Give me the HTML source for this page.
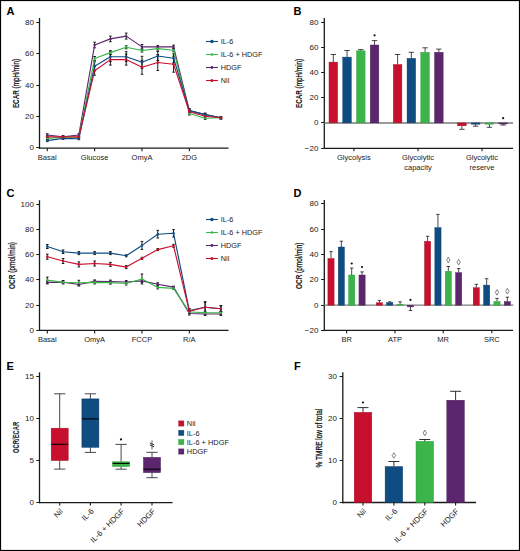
<!DOCTYPE html>
<html><head><meta charset="utf-8"><style>
html,body{margin:0;padding:0;background:#fff;width:520px;height:551px;overflow:hidden}
svg{display:block}
text{font-family:"Liberation Sans",sans-serif}
</style></head><body>
<svg width="520" height="551" viewBox="0 0 520 551">
<rect x="0" y="0" width="520" height="551" fill="#fff"/>
<text x="6.60" y="14.60" font-size="11" text-anchor="start" font-weight="bold" fill="#000" >A</text>
<line x1="39.50" y1="18.00" x2="39.50" y2="148.70" stroke="#1a1a1a" stroke-width="1.3"/>
<line x1="38.90" y1="148.10" x2="228.50" y2="148.10" stroke="#1a1a1a" stroke-width="1.3"/>
<line x1="36.30" y1="147.50" x2="39.50" y2="147.50" stroke="#1a1a1a" stroke-width="1.0"/>
<text x="33.90" y="150.28" font-size="8.0" text-anchor="end" font-weight="normal" fill="#222" >0</text>
<line x1="36.30" y1="116.50" x2="39.50" y2="116.50" stroke="#1a1a1a" stroke-width="1.0"/>
<text x="33.90" y="118.95" font-size="8.0" text-anchor="end" font-weight="normal" fill="#222" >20</text>
<line x1="36.30" y1="85.50" x2="39.50" y2="85.50" stroke="#1a1a1a" stroke-width="1.0"/>
<text x="33.90" y="87.62" font-size="8.0" text-anchor="end" font-weight="normal" fill="#222" >40</text>
<line x1="36.30" y1="53.50" x2="39.50" y2="53.50" stroke="#1a1a1a" stroke-width="1.0"/>
<text x="33.90" y="56.29" font-size="8.0" text-anchor="end" font-weight="normal" fill="#222" >60</text>
<line x1="36.30" y1="22.50" x2="39.50" y2="22.50" stroke="#1a1a1a" stroke-width="1.0"/>
<text x="33.90" y="24.96" font-size="8.0" text-anchor="end" font-weight="normal" fill="#222" >80</text>
<line x1="47.25" y1="148.10" x2="47.25" y2="151.20" stroke="#1a1a1a" stroke-width="1.1"/>
<text x="47.25" y="160.00" font-size="7.5" text-anchor="middle" font-weight="normal" fill="#222" >Basal</text>
<line x1="94.62" y1="148.10" x2="94.62" y2="151.20" stroke="#1a1a1a" stroke-width="1.1"/>
<text x="94.62" y="160.00" font-size="7.5" text-anchor="middle" font-weight="normal" fill="#222" >Glucose</text>
<line x1="141.99" y1="148.10" x2="141.99" y2="151.20" stroke="#1a1a1a" stroke-width="1.1"/>
<text x="141.99" y="160.00" font-size="7.5" text-anchor="middle" font-weight="normal" fill="#222" >OmyA</text>
<line x1="189.36" y1="148.10" x2="189.36" y2="151.20" stroke="#1a1a1a" stroke-width="1.1"/>
<text x="189.36" y="160.00" font-size="7.5" text-anchor="middle" font-weight="normal" fill="#222" >2DG</text>
<text transform="translate(18.80,83.55) rotate(-90)" font-size="9.8" text-anchor="middle" fill="#111" font-weight="bold" textLength="49.1" lengthAdjust="spacingAndGlyphs">ECAR<tspan font-weight="normal" stroke="#111" stroke-width="0.3"> (mpH/min)</tspan></text>
<line x1="47.25" y1="133.80" x2="47.25" y2="136.20" stroke="#111" stroke-width="0.95"/>
<line x1="45.95" y1="133.80" x2="48.55" y2="133.80" stroke="#111" stroke-width="0.95"/>
<line x1="45.95" y1="136.20" x2="48.55" y2="136.20" stroke="#111" stroke-width="0.95"/>
<line x1="63.04" y1="135.70" x2="63.04" y2="137.70" stroke="#111" stroke-width="0.95"/>
<line x1="61.74" y1="135.70" x2="64.34" y2="135.70" stroke="#111" stroke-width="0.95"/>
<line x1="61.74" y1="137.70" x2="64.34" y2="137.70" stroke="#111" stroke-width="0.95"/>
<line x1="78.83" y1="133.80" x2="78.83" y2="136.20" stroke="#111" stroke-width="0.95"/>
<line x1="77.53" y1="133.80" x2="80.13" y2="133.80" stroke="#111" stroke-width="0.95"/>
<line x1="77.53" y1="136.20" x2="80.13" y2="136.20" stroke="#111" stroke-width="0.95"/>
<line x1="94.62" y1="42.20" x2="94.62" y2="47.80" stroke="#111" stroke-width="0.95"/>
<line x1="93.32" y1="42.20" x2="95.92" y2="42.20" stroke="#111" stroke-width="0.95"/>
<line x1="93.32" y1="47.80" x2="95.92" y2="47.80" stroke="#111" stroke-width="0.95"/>
<line x1="110.41" y1="36.10" x2="110.41" y2="41.70" stroke="#111" stroke-width="0.95"/>
<line x1="109.11" y1="36.10" x2="111.71" y2="36.10" stroke="#111" stroke-width="0.95"/>
<line x1="109.11" y1="41.70" x2="111.71" y2="41.70" stroke="#111" stroke-width="0.95"/>
<line x1="126.20" y1="33.10" x2="126.20" y2="39.10" stroke="#111" stroke-width="0.95"/>
<line x1="124.90" y1="33.10" x2="127.50" y2="33.10" stroke="#111" stroke-width="0.95"/>
<line x1="124.90" y1="39.10" x2="127.50" y2="39.10" stroke="#111" stroke-width="0.95"/>
<line x1="141.99" y1="44.50" x2="141.99" y2="49.30" stroke="#111" stroke-width="0.95"/>
<line x1="140.69" y1="44.50" x2="143.29" y2="44.50" stroke="#111" stroke-width="0.95"/>
<line x1="140.69" y1="49.30" x2="143.29" y2="49.30" stroke="#111" stroke-width="0.95"/>
<line x1="157.78" y1="45.40" x2="157.78" y2="48.40" stroke="#111" stroke-width="0.95"/>
<line x1="156.48" y1="45.40" x2="159.08" y2="45.40" stroke="#111" stroke-width="0.95"/>
<line x1="156.48" y1="48.40" x2="159.08" y2="48.40" stroke="#111" stroke-width="0.95"/>
<line x1="173.57" y1="45.10" x2="173.57" y2="48.70" stroke="#111" stroke-width="0.95"/>
<line x1="172.27" y1="45.10" x2="174.87" y2="45.10" stroke="#111" stroke-width="0.95"/>
<line x1="172.27" y1="48.70" x2="174.87" y2="48.70" stroke="#111" stroke-width="0.95"/>
<line x1="189.36" y1="109.10" x2="189.36" y2="112.10" stroke="#111" stroke-width="0.95"/>
<line x1="188.06" y1="109.10" x2="190.66" y2="109.10" stroke="#111" stroke-width="0.95"/>
<line x1="188.06" y1="112.10" x2="190.66" y2="112.10" stroke="#111" stroke-width="0.95"/>
<line x1="205.15" y1="113.40" x2="205.15" y2="115.80" stroke="#111" stroke-width="0.95"/>
<line x1="203.85" y1="113.40" x2="206.45" y2="113.40" stroke="#111" stroke-width="0.95"/>
<line x1="203.85" y1="115.80" x2="206.45" y2="115.80" stroke="#111" stroke-width="0.95"/>
<line x1="220.94" y1="116.80" x2="220.94" y2="118.80" stroke="#111" stroke-width="0.95"/>
<line x1="219.64" y1="116.80" x2="222.24" y2="116.80" stroke="#111" stroke-width="0.95"/>
<line x1="219.64" y1="118.80" x2="222.24" y2="118.80" stroke="#111" stroke-width="0.95"/>
<line x1="47.25" y1="137.40" x2="47.25" y2="139.40" stroke="#111" stroke-width="0.95"/>
<line x1="45.95" y1="137.40" x2="48.55" y2="137.40" stroke="#111" stroke-width="0.95"/>
<line x1="45.95" y1="139.40" x2="48.55" y2="139.40" stroke="#111" stroke-width="0.95"/>
<line x1="63.04" y1="136.20" x2="63.04" y2="138.20" stroke="#111" stroke-width="0.95"/>
<line x1="61.74" y1="136.20" x2="64.34" y2="136.20" stroke="#111" stroke-width="0.95"/>
<line x1="61.74" y1="138.20" x2="64.34" y2="138.20" stroke="#111" stroke-width="0.95"/>
<line x1="78.83" y1="136.20" x2="78.83" y2="138.20" stroke="#111" stroke-width="0.95"/>
<line x1="77.53" y1="136.20" x2="80.13" y2="136.20" stroke="#111" stroke-width="0.95"/>
<line x1="77.53" y1="138.20" x2="80.13" y2="138.20" stroke="#111" stroke-width="0.95"/>
<line x1="94.62" y1="56.50" x2="94.62" y2="60.50" stroke="#111" stroke-width="0.95"/>
<line x1="93.32" y1="56.50" x2="95.92" y2="56.50" stroke="#111" stroke-width="0.95"/>
<line x1="93.32" y1="60.50" x2="95.92" y2="60.50" stroke="#111" stroke-width="0.95"/>
<line x1="110.41" y1="50.60" x2="110.41" y2="54.60" stroke="#111" stroke-width="0.95"/>
<line x1="109.11" y1="50.60" x2="111.71" y2="50.60" stroke="#111" stroke-width="0.95"/>
<line x1="109.11" y1="54.60" x2="111.71" y2="54.60" stroke="#111" stroke-width="0.95"/>
<line x1="126.20" y1="45.80" x2="126.20" y2="48.80" stroke="#111" stroke-width="0.95"/>
<line x1="124.90" y1="45.80" x2="127.50" y2="45.80" stroke="#111" stroke-width="0.95"/>
<line x1="124.90" y1="48.80" x2="127.50" y2="48.80" stroke="#111" stroke-width="0.95"/>
<line x1="141.99" y1="49.00" x2="141.99" y2="52.00" stroke="#111" stroke-width="0.95"/>
<line x1="140.69" y1="49.00" x2="143.29" y2="49.00" stroke="#111" stroke-width="0.95"/>
<line x1="140.69" y1="52.00" x2="143.29" y2="52.00" stroke="#111" stroke-width="0.95"/>
<line x1="157.78" y1="47.10" x2="157.78" y2="50.10" stroke="#111" stroke-width="0.95"/>
<line x1="156.48" y1="47.10" x2="159.08" y2="47.10" stroke="#111" stroke-width="0.95"/>
<line x1="156.48" y1="50.10" x2="159.08" y2="50.10" stroke="#111" stroke-width="0.95"/>
<line x1="173.57" y1="48.70" x2="173.57" y2="51.70" stroke="#111" stroke-width="0.95"/>
<line x1="172.27" y1="48.70" x2="174.87" y2="48.70" stroke="#111" stroke-width="0.95"/>
<line x1="172.27" y1="51.70" x2="174.87" y2="51.70" stroke="#111" stroke-width="0.95"/>
<line x1="189.36" y1="112.00" x2="189.36" y2="115.00" stroke="#111" stroke-width="0.95"/>
<line x1="188.06" y1="112.00" x2="190.66" y2="112.00" stroke="#111" stroke-width="0.95"/>
<line x1="188.06" y1="115.00" x2="190.66" y2="115.00" stroke="#111" stroke-width="0.95"/>
<line x1="205.15" y1="117.10" x2="205.15" y2="119.50" stroke="#111" stroke-width="0.95"/>
<line x1="203.85" y1="117.10" x2="206.45" y2="117.10" stroke="#111" stroke-width="0.95"/>
<line x1="203.85" y1="119.50" x2="206.45" y2="119.50" stroke="#111" stroke-width="0.95"/>
<line x1="220.94" y1="116.80" x2="220.94" y2="118.80" stroke="#111" stroke-width="0.95"/>
<line x1="219.64" y1="116.80" x2="222.24" y2="116.80" stroke="#111" stroke-width="0.95"/>
<line x1="219.64" y1="118.80" x2="222.24" y2="118.80" stroke="#111" stroke-width="0.95"/>
<line x1="47.25" y1="139.60" x2="47.25" y2="141.60" stroke="#111" stroke-width="0.95"/>
<line x1="45.95" y1="139.60" x2="48.55" y2="139.60" stroke="#111" stroke-width="0.95"/>
<line x1="45.95" y1="141.60" x2="48.55" y2="141.60" stroke="#111" stroke-width="0.95"/>
<line x1="63.04" y1="137.40" x2="63.04" y2="139.40" stroke="#111" stroke-width="0.95"/>
<line x1="61.74" y1="137.40" x2="64.34" y2="137.40" stroke="#111" stroke-width="0.95"/>
<line x1="61.74" y1="139.40" x2="64.34" y2="139.40" stroke="#111" stroke-width="0.95"/>
<line x1="78.83" y1="137.70" x2="78.83" y2="139.70" stroke="#111" stroke-width="0.95"/>
<line x1="77.53" y1="137.70" x2="80.13" y2="137.70" stroke="#111" stroke-width="0.95"/>
<line x1="77.53" y1="139.70" x2="80.13" y2="139.70" stroke="#111" stroke-width="0.95"/>
<line x1="94.62" y1="61.70" x2="94.62" y2="70.70" stroke="#111" stroke-width="0.95"/>
<line x1="93.32" y1="61.70" x2="95.92" y2="61.70" stroke="#111" stroke-width="0.95"/>
<line x1="93.32" y1="70.70" x2="95.92" y2="70.70" stroke="#111" stroke-width="0.95"/>
<line x1="110.41" y1="51.70" x2="110.41" y2="61.70" stroke="#111" stroke-width="0.95"/>
<line x1="109.11" y1="51.70" x2="111.71" y2="51.70" stroke="#111" stroke-width="0.95"/>
<line x1="109.11" y1="61.70" x2="111.71" y2="61.70" stroke="#111" stroke-width="0.95"/>
<line x1="126.20" y1="51.70" x2="126.20" y2="61.70" stroke="#111" stroke-width="0.95"/>
<line x1="124.90" y1="51.70" x2="127.50" y2="51.70" stroke="#111" stroke-width="0.95"/>
<line x1="124.90" y1="61.70" x2="127.50" y2="61.70" stroke="#111" stroke-width="0.95"/>
<line x1="141.99" y1="56.30" x2="141.99" y2="68.30" stroke="#111" stroke-width="0.95"/>
<line x1="140.69" y1="56.30" x2="143.29" y2="56.30" stroke="#111" stroke-width="0.95"/>
<line x1="140.69" y1="68.30" x2="143.29" y2="68.30" stroke="#111" stroke-width="0.95"/>
<line x1="157.78" y1="51.50" x2="157.78" y2="60.50" stroke="#111" stroke-width="0.95"/>
<line x1="156.48" y1="51.50" x2="159.08" y2="51.50" stroke="#111" stroke-width="0.95"/>
<line x1="156.48" y1="60.50" x2="159.08" y2="60.50" stroke="#111" stroke-width="0.95"/>
<line x1="173.57" y1="53.70" x2="173.57" y2="62.70" stroke="#111" stroke-width="0.95"/>
<line x1="172.27" y1="53.70" x2="174.87" y2="53.70" stroke="#111" stroke-width="0.95"/>
<line x1="172.27" y1="62.70" x2="174.87" y2="62.70" stroke="#111" stroke-width="0.95"/>
<line x1="189.36" y1="108.60" x2="189.36" y2="112.60" stroke="#111" stroke-width="0.95"/>
<line x1="188.06" y1="108.60" x2="190.66" y2="108.60" stroke="#111" stroke-width="0.95"/>
<line x1="188.06" y1="112.60" x2="190.66" y2="112.60" stroke="#111" stroke-width="0.95"/>
<line x1="205.15" y1="113.10" x2="205.15" y2="116.10" stroke="#111" stroke-width="0.95"/>
<line x1="203.85" y1="113.10" x2="206.45" y2="113.10" stroke="#111" stroke-width="0.95"/>
<line x1="203.85" y1="116.10" x2="206.45" y2="116.10" stroke="#111" stroke-width="0.95"/>
<line x1="220.94" y1="116.80" x2="220.94" y2="118.80" stroke="#111" stroke-width="0.95"/>
<line x1="219.64" y1="116.80" x2="222.24" y2="116.80" stroke="#111" stroke-width="0.95"/>
<line x1="219.64" y1="118.80" x2="222.24" y2="118.80" stroke="#111" stroke-width="0.95"/>
<line x1="47.25" y1="135.90" x2="47.25" y2="137.90" stroke="#111" stroke-width="0.95"/>
<line x1="45.95" y1="135.90" x2="48.55" y2="135.90" stroke="#111" stroke-width="0.95"/>
<line x1="45.95" y1="137.90" x2="48.55" y2="137.90" stroke="#111" stroke-width="0.95"/>
<line x1="63.04" y1="135.70" x2="63.04" y2="137.70" stroke="#111" stroke-width="0.95"/>
<line x1="61.74" y1="135.70" x2="64.34" y2="135.70" stroke="#111" stroke-width="0.95"/>
<line x1="61.74" y1="137.70" x2="64.34" y2="137.70" stroke="#111" stroke-width="0.95"/>
<line x1="78.83" y1="135.90" x2="78.83" y2="137.90" stroke="#111" stroke-width="0.95"/>
<line x1="77.53" y1="135.90" x2="80.13" y2="135.90" stroke="#111" stroke-width="0.95"/>
<line x1="77.53" y1="137.90" x2="80.13" y2="137.90" stroke="#111" stroke-width="0.95"/>
<line x1="94.62" y1="66.20" x2="94.62" y2="75.20" stroke="#111" stroke-width="0.95"/>
<line x1="93.32" y1="66.20" x2="95.92" y2="66.20" stroke="#111" stroke-width="0.95"/>
<line x1="93.32" y1="75.20" x2="95.92" y2="75.20" stroke="#111" stroke-width="0.95"/>
<line x1="110.41" y1="54.10" x2="110.41" y2="65.10" stroke="#111" stroke-width="0.95"/>
<line x1="109.11" y1="54.10" x2="111.71" y2="54.10" stroke="#111" stroke-width="0.95"/>
<line x1="109.11" y1="65.10" x2="111.71" y2="65.10" stroke="#111" stroke-width="0.95"/>
<line x1="126.20" y1="54.10" x2="126.20" y2="65.10" stroke="#111" stroke-width="0.95"/>
<line x1="124.90" y1="54.10" x2="127.50" y2="54.10" stroke="#111" stroke-width="0.95"/>
<line x1="124.90" y1="65.10" x2="127.50" y2="65.10" stroke="#111" stroke-width="0.95"/>
<line x1="141.99" y1="60.30" x2="141.99" y2="74.30" stroke="#111" stroke-width="0.95"/>
<line x1="140.69" y1="60.30" x2="143.29" y2="60.30" stroke="#111" stroke-width="0.95"/>
<line x1="140.69" y1="74.30" x2="143.29" y2="74.30" stroke="#111" stroke-width="0.95"/>
<line x1="157.78" y1="54.50" x2="157.78" y2="70.50" stroke="#111" stroke-width="0.95"/>
<line x1="156.48" y1="54.50" x2="159.08" y2="54.50" stroke="#111" stroke-width="0.95"/>
<line x1="156.48" y1="70.50" x2="159.08" y2="70.50" stroke="#111" stroke-width="0.95"/>
<line x1="173.57" y1="56.20" x2="173.57" y2="72.20" stroke="#111" stroke-width="0.95"/>
<line x1="172.27" y1="56.20" x2="174.87" y2="56.20" stroke="#111" stroke-width="0.95"/>
<line x1="172.27" y1="72.20" x2="174.87" y2="72.20" stroke="#111" stroke-width="0.95"/>
<line x1="189.36" y1="109.70" x2="189.36" y2="113.70" stroke="#111" stroke-width="0.95"/>
<line x1="188.06" y1="109.70" x2="190.66" y2="109.70" stroke="#111" stroke-width="0.95"/>
<line x1="188.06" y1="113.70" x2="190.66" y2="113.70" stroke="#111" stroke-width="0.95"/>
<line x1="205.15" y1="114.80" x2="205.15" y2="117.80" stroke="#111" stroke-width="0.95"/>
<line x1="203.85" y1="114.80" x2="206.45" y2="114.80" stroke="#111" stroke-width="0.95"/>
<line x1="203.85" y1="117.80" x2="206.45" y2="117.80" stroke="#111" stroke-width="0.95"/>
<line x1="220.94" y1="116.80" x2="220.94" y2="118.80" stroke="#111" stroke-width="0.95"/>
<line x1="219.64" y1="116.80" x2="222.24" y2="116.80" stroke="#111" stroke-width="0.95"/>
<line x1="219.64" y1="118.80" x2="222.24" y2="118.80" stroke="#111" stroke-width="0.95"/>
<polyline points="47.25,135.00 63.04,136.70 78.83,135.00 94.62,45.00 110.41,38.90 126.20,36.10 141.99,46.90 157.78,46.90 173.57,46.90 189.36,110.60 205.15,114.60 220.94,117.80" fill="none" stroke="#5c266e" stroke-width="1.15" stroke-linejoin="round"/>
<circle cx="47.25" cy="135.00" r="1.2" fill="#5c266e"/>
<circle cx="63.04" cy="136.70" r="1.2" fill="#5c266e"/>
<circle cx="78.83" cy="135.00" r="1.2" fill="#5c266e"/>
<circle cx="94.62" cy="45.00" r="1.2" fill="#5c266e"/>
<circle cx="110.41" cy="38.90" r="1.2" fill="#5c266e"/>
<circle cx="126.20" cy="36.10" r="1.2" fill="#5c266e"/>
<circle cx="141.99" cy="46.90" r="1.2" fill="#5c266e"/>
<circle cx="157.78" cy="46.90" r="1.2" fill="#5c266e"/>
<circle cx="173.57" cy="46.90" r="1.2" fill="#5c266e"/>
<circle cx="189.36" cy="110.60" r="1.2" fill="#5c266e"/>
<circle cx="205.15" cy="114.60" r="1.2" fill="#5c266e"/>
<circle cx="220.94" cy="117.80" r="1.2" fill="#5c266e"/>
<polyline points="47.25,138.40 63.04,137.20 78.83,137.20 94.62,58.50 110.41,52.60 126.20,47.30 141.99,50.50 157.78,48.60 173.57,50.20 189.36,113.50 205.15,118.30 220.94,117.80" fill="none" stroke="#3bb54a" stroke-width="1.15" stroke-linejoin="round"/>
<circle cx="47.25" cy="138.40" r="1.2" fill="#3bb54a"/>
<circle cx="63.04" cy="137.20" r="1.2" fill="#3bb54a"/>
<circle cx="78.83" cy="137.20" r="1.2" fill="#3bb54a"/>
<circle cx="94.62" cy="58.50" r="1.2" fill="#3bb54a"/>
<circle cx="110.41" cy="52.60" r="1.2" fill="#3bb54a"/>
<circle cx="126.20" cy="47.30" r="1.2" fill="#3bb54a"/>
<circle cx="141.99" cy="50.50" r="1.2" fill="#3bb54a"/>
<circle cx="157.78" cy="48.60" r="1.2" fill="#3bb54a"/>
<circle cx="173.57" cy="50.20" r="1.2" fill="#3bb54a"/>
<circle cx="189.36" cy="113.50" r="1.2" fill="#3bb54a"/>
<circle cx="205.15" cy="118.30" r="1.2" fill="#3bb54a"/>
<circle cx="220.94" cy="117.80" r="1.2" fill="#3bb54a"/>
<polyline points="47.25,140.60 63.04,138.40 78.83,138.70 94.62,66.20 110.41,56.70 126.20,56.70 141.99,62.30 157.78,56.00 173.57,58.20 189.36,110.60 205.15,114.60 220.94,117.80" fill="none" stroke="#0f4c81" stroke-width="1.15" stroke-linejoin="round"/>
<circle cx="47.25" cy="140.60" r="1.2" fill="#0f4c81"/>
<circle cx="63.04" cy="138.40" r="1.2" fill="#0f4c81"/>
<circle cx="78.83" cy="138.70" r="1.2" fill="#0f4c81"/>
<circle cx="94.62" cy="66.20" r="1.2" fill="#0f4c81"/>
<circle cx="110.41" cy="56.70" r="1.2" fill="#0f4c81"/>
<circle cx="126.20" cy="56.70" r="1.2" fill="#0f4c81"/>
<circle cx="141.99" cy="62.30" r="1.2" fill="#0f4c81"/>
<circle cx="157.78" cy="56.00" r="1.2" fill="#0f4c81"/>
<circle cx="173.57" cy="58.20" r="1.2" fill="#0f4c81"/>
<circle cx="189.36" cy="110.60" r="1.2" fill="#0f4c81"/>
<circle cx="205.15" cy="114.60" r="1.2" fill="#0f4c81"/>
<circle cx="220.94" cy="117.80" r="1.2" fill="#0f4c81"/>
<polyline points="47.25,136.90 63.04,136.70 78.83,136.90 94.62,70.70 110.41,59.60 126.20,59.60 141.99,67.30 157.78,62.50 173.57,64.20 189.36,111.70 205.15,116.30 220.94,117.80" fill="none" stroke="#c8102e" stroke-width="1.15" stroke-linejoin="round"/>
<circle cx="47.25" cy="136.90" r="1.2" fill="#c8102e"/>
<circle cx="63.04" cy="136.70" r="1.2" fill="#c8102e"/>
<circle cx="78.83" cy="136.90" r="1.2" fill="#c8102e"/>
<circle cx="94.62" cy="70.70" r="1.2" fill="#c8102e"/>
<circle cx="110.41" cy="59.60" r="1.2" fill="#c8102e"/>
<circle cx="126.20" cy="59.60" r="1.2" fill="#c8102e"/>
<circle cx="141.99" cy="67.30" r="1.2" fill="#c8102e"/>
<circle cx="157.78" cy="62.50" r="1.2" fill="#c8102e"/>
<circle cx="173.57" cy="64.20" r="1.2" fill="#c8102e"/>
<circle cx="189.36" cy="111.70" r="1.2" fill="#c8102e"/>
<circle cx="205.15" cy="116.30" r="1.2" fill="#c8102e"/>
<circle cx="220.94" cy="117.80" r="1.2" fill="#c8102e"/>
<line x1="206.00" y1="41.50" x2="217.90" y2="41.50" stroke="#0f4c81" stroke-width="1.1"/>
<circle cx="211.90" cy="41.50" r="1.75" fill="#0f4c81"/>
<text x="220.80" y="44.13" font-size="7.3" text-anchor="start" font-weight="normal" fill="#222" >IL-6</text>
<line x1="206.00" y1="54.50" x2="217.90" y2="54.50" stroke="#3bb54a" stroke-width="1.1"/>
<circle cx="211.90" cy="54.50" r="1.3" fill="#3bb54a"/>
<text x="220.80" y="57.13" font-size="7.3" text-anchor="start" font-weight="normal" fill="#222" >IL-6 + HDGF</text>
<line x1="206.00" y1="67.50" x2="217.90" y2="67.50" stroke="#5c266e" stroke-width="1.1"/>
<circle cx="211.90" cy="67.50" r="1.4" fill="#5c266e"/>
<text x="220.80" y="70.13" font-size="7.3" text-anchor="start" font-weight="normal" fill="#222" >HDGF</text>
<line x1="206.00" y1="80.50" x2="217.90" y2="80.50" stroke="#c8102e" stroke-width="1.1"/>
<circle cx="211.90" cy="80.50" r="1.5" fill="#c8102e"/>
<text x="220.80" y="83.13" font-size="7.3" text-anchor="start" font-weight="normal" fill="#222" >Nil</text>
<text x="293.60" y="15.40" font-size="11" text-anchor="start" font-weight="bold" fill="#000" >B</text>
<line x1="324.30" y1="18.00" x2="324.30" y2="148.90" stroke="#1a1a1a" stroke-width="1.3"/>
<line x1="323.70" y1="148.30" x2="513.00" y2="148.30" stroke="#1a1a1a" stroke-width="1.3"/>
<line x1="321.10" y1="148.50" x2="324.30" y2="148.50" stroke="#1a1a1a" stroke-width="1.0"/>
<text x="318.40" y="150.58" font-size="8.0" text-anchor="end" font-weight="normal" fill="#222" >−20</text>
<line x1="321.10" y1="122.50" x2="324.30" y2="122.50" stroke="#1a1a1a" stroke-width="1.0"/>
<text x="318.40" y="125.48" font-size="8.0" text-anchor="end" font-weight="normal" fill="#222" >0</text>
<line x1="321.10" y1="97.50" x2="324.30" y2="97.50" stroke="#1a1a1a" stroke-width="1.0"/>
<text x="318.40" y="100.38" font-size="8.0" text-anchor="end" font-weight="normal" fill="#222" >20</text>
<line x1="321.10" y1="72.50" x2="324.30" y2="72.50" stroke="#1a1a1a" stroke-width="1.0"/>
<text x="318.40" y="75.28" font-size="8.0" text-anchor="end" font-weight="normal" fill="#222" >40</text>
<line x1="321.10" y1="47.50" x2="324.30" y2="47.50" stroke="#1a1a1a" stroke-width="1.0"/>
<text x="318.40" y="50.18" font-size="8.0" text-anchor="end" font-weight="normal" fill="#222" >60</text>
<line x1="321.10" y1="22.50" x2="324.30" y2="22.50" stroke="#1a1a1a" stroke-width="1.0"/>
<text x="318.40" y="25.08" font-size="8.0" text-anchor="end" font-weight="normal" fill="#222" >80</text>
<line x1="324.30" y1="123.00" x2="513.00" y2="123.00" stroke="#7a7a7a" stroke-width="1.3"/>
<text transform="translate(301.90,83.45) rotate(-90)" font-size="9.8" text-anchor="middle" fill="#111" font-weight="bold" textLength="49.3" lengthAdjust="spacingAndGlyphs">ECAR<tspan font-weight="normal" stroke="#111" stroke-width="0.3"> (mpH/min)</tspan></text>
<line x1="333.30" y1="54.50" x2="333.30" y2="62.10" stroke="#1a1a1a" stroke-width="0.8"/>
<line x1="330.60" y1="54.50" x2="336.00" y2="54.50" stroke="#1a1a1a" stroke-width="0.8"/>
<rect x="329.00" y="62.10" width="8.60" height="60.80" fill="#c8102e" stroke="#a00c25" stroke-width="0.4"/>
<line x1="347.05" y1="50.50" x2="347.05" y2="57.10" stroke="#1a1a1a" stroke-width="0.8"/>
<line x1="344.35" y1="50.50" x2="349.75" y2="50.50" stroke="#1a1a1a" stroke-width="0.8"/>
<rect x="342.75" y="57.10" width="8.60" height="65.80" fill="#0f4c81" stroke="#0a3a66" stroke-width="0.4"/>
<line x1="360.80" y1="49.60" x2="360.80" y2="50.80" stroke="#1a1a1a" stroke-width="0.8"/>
<line x1="358.10" y1="49.60" x2="363.50" y2="49.60" stroke="#1a1a1a" stroke-width="0.8"/>
<rect x="356.50" y="50.80" width="8.60" height="72.10" fill="#3bb54a" stroke="#2a9a3a" stroke-width="0.4"/>
<line x1="374.55" y1="40.60" x2="374.55" y2="45.00" stroke="#1a1a1a" stroke-width="0.8"/>
<line x1="371.85" y1="40.60" x2="377.25" y2="40.60" stroke="#1a1a1a" stroke-width="0.8"/>
<rect x="370.25" y="45.00" width="8.60" height="77.90" fill="#5c266e" stroke="#461c56" stroke-width="0.4"/>
<circle cx="374.55" cy="35.30" r="1.1" fill="#111"/>
<line x1="397.60" y1="54.50" x2="397.60" y2="64.50" stroke="#1a1a1a" stroke-width="0.8"/>
<line x1="394.90" y1="54.50" x2="400.30" y2="54.50" stroke="#1a1a1a" stroke-width="0.8"/>
<rect x="393.30" y="64.50" width="8.60" height="58.40" fill="#c8102e" stroke="#a00c25" stroke-width="0.4"/>
<line x1="411.35" y1="52.30" x2="411.35" y2="58.30" stroke="#1a1a1a" stroke-width="0.8"/>
<line x1="408.65" y1="52.30" x2="414.05" y2="52.30" stroke="#1a1a1a" stroke-width="0.8"/>
<rect x="407.05" y="58.30" width="8.60" height="64.60" fill="#0f4c81" stroke="#0a3a66" stroke-width="0.4"/>
<line x1="425.10" y1="47.80" x2="425.10" y2="52.30" stroke="#1a1a1a" stroke-width="0.8"/>
<line x1="422.40" y1="47.80" x2="427.80" y2="47.80" stroke="#1a1a1a" stroke-width="0.8"/>
<rect x="420.80" y="52.30" width="8.60" height="70.60" fill="#3bb54a" stroke="#2a9a3a" stroke-width="0.4"/>
<line x1="438.85" y1="49.10" x2="438.85" y2="52.30" stroke="#1a1a1a" stroke-width="0.8"/>
<line x1="436.15" y1="49.10" x2="441.55" y2="49.10" stroke="#1a1a1a" stroke-width="0.8"/>
<rect x="434.55" y="52.30" width="8.60" height="70.60" fill="#5c266e" stroke="#461c56" stroke-width="0.4"/>
<line x1="461.90" y1="125.80" x2="461.90" y2="129.30" stroke="#1a1a1a" stroke-width="0.8"/>
<line x1="459.20" y1="129.30" x2="464.60" y2="129.30" stroke="#1a1a1a" stroke-width="0.8"/>
<rect x="457.60" y="122.90" width="8.60" height="2.90" fill="#c8102e" stroke="#a00c25" stroke-width="0.4"/>
<line x1="475.65" y1="124.20" x2="475.65" y2="126.20" stroke="#1a1a1a" stroke-width="0.8"/>
<line x1="472.95" y1="126.20" x2="478.35" y2="126.20" stroke="#1a1a1a" stroke-width="0.8"/>
<rect x="471.35" y="122.90" width="8.60" height="1.30" fill="#0f4c81" stroke="#0a3a66" stroke-width="0.4"/>
<line x1="489.40" y1="124.20" x2="489.40" y2="127.30" stroke="#1a1a1a" stroke-width="0.8"/>
<line x1="486.70" y1="127.30" x2="492.10" y2="127.30" stroke="#1a1a1a" stroke-width="0.8"/>
<rect x="485.10" y="122.90" width="8.60" height="1.30" fill="#3bb54a" stroke="#2a9a3a" stroke-width="0.4"/>
<line x1="503.15" y1="124.00" x2="503.15" y2="125.00" stroke="#1a1a1a" stroke-width="0.8"/>
<line x1="500.45" y1="125.00" x2="505.85" y2="125.00" stroke="#1a1a1a" stroke-width="0.8"/>
<rect x="498.85" y="122.90" width="8.60" height="1.10" fill="#5c266e" stroke="#461c56" stroke-width="0.4"/>
<circle cx="503.15" cy="118.20" r="1.1" fill="#111"/>
<line x1="353.90" y1="148.30" x2="353.90" y2="151.20" stroke="#1a1a1a" stroke-width="1.1"/>
<text x="353.90" y="160.20" font-size="7.5" text-anchor="middle" font-weight="normal" fill="#222" >Glycolysis</text>
<line x1="418.00" y1="148.30" x2="418.00" y2="151.20" stroke="#1a1a1a" stroke-width="1.1"/>
<text x="418.00" y="160.20" font-size="7.5" text-anchor="middle" font-weight="normal" fill="#222" >Glycolytic</text>
<text x="418.00" y="169.70" font-size="7.5" text-anchor="middle" font-weight="normal" fill="#222" >capacity</text>
<line x1="482.00" y1="148.30" x2="482.00" y2="151.20" stroke="#1a1a1a" stroke-width="1.1"/>
<text x="482.00" y="160.20" font-size="7.5" text-anchor="middle" font-weight="normal" fill="#222" >Glycolytic</text>
<text x="482.00" y="169.70" font-size="7.5" text-anchor="middle" font-weight="normal" fill="#222" >reserve</text>
<text x="6.60" y="196.80" font-size="11" text-anchor="start" font-weight="bold" fill="#000" >C</text>
<line x1="39.50" y1="200.20" x2="39.50" y2="331.00" stroke="#1a1a1a" stroke-width="1.3"/>
<line x1="38.90" y1="330.40" x2="228.50" y2="330.40" stroke="#1a1a1a" stroke-width="1.3"/>
<line x1="36.30" y1="330.50" x2="39.50" y2="330.50" stroke="#1a1a1a" stroke-width="1.0"/>
<text x="33.90" y="332.78" font-size="8.0" text-anchor="end" font-weight="normal" fill="#222" >0</text>
<line x1="36.30" y1="305.50" x2="39.50" y2="305.50" stroke="#1a1a1a" stroke-width="1.0"/>
<text x="33.90" y="307.58" font-size="8.0" text-anchor="end" font-weight="normal" fill="#222" >20</text>
<line x1="36.30" y1="279.50" x2="39.50" y2="279.50" stroke="#1a1a1a" stroke-width="1.0"/>
<text x="33.90" y="282.38" font-size="8.0" text-anchor="end" font-weight="normal" fill="#222" >40</text>
<line x1="36.30" y1="254.50" x2="39.50" y2="254.50" stroke="#1a1a1a" stroke-width="1.0"/>
<text x="33.90" y="257.18" font-size="8.0" text-anchor="end" font-weight="normal" fill="#222" >60</text>
<line x1="36.30" y1="229.50" x2="39.50" y2="229.50" stroke="#1a1a1a" stroke-width="1.0"/>
<text x="33.90" y="231.98" font-size="8.0" text-anchor="end" font-weight="normal" fill="#222" >80</text>
<line x1="36.30" y1="204.50" x2="39.50" y2="204.50" stroke="#1a1a1a" stroke-width="1.0"/>
<text x="33.90" y="206.78" font-size="8.0" text-anchor="end" font-weight="normal" fill="#222" >100</text>
<line x1="47.30" y1="330.40" x2="47.30" y2="333.50" stroke="#1a1a1a" stroke-width="1.1"/>
<text x="47.30" y="342.20" font-size="7.5" text-anchor="middle" font-weight="normal" fill="#222" >Basal</text>
<line x1="94.64" y1="330.40" x2="94.64" y2="333.50" stroke="#1a1a1a" stroke-width="1.1"/>
<text x="94.64" y="342.20" font-size="7.5" text-anchor="middle" font-weight="normal" fill="#222" >OmyA</text>
<line x1="141.98" y1="330.40" x2="141.98" y2="333.50" stroke="#1a1a1a" stroke-width="1.1"/>
<text x="141.98" y="342.20" font-size="7.5" text-anchor="middle" font-weight="normal" fill="#222" >FCCP</text>
<line x1="189.32" y1="330.40" x2="189.32" y2="333.50" stroke="#1a1a1a" stroke-width="1.1"/>
<text x="189.32" y="342.20" font-size="7.5" text-anchor="middle" font-weight="normal" fill="#222" >R/A</text>
<text transform="translate(14.60,265.55) rotate(-90)" font-size="9.5" text-anchor="middle" fill="#111" font-weight="bold" textLength="47.1" lengthAdjust="spacingAndGlyphs">OCR<tspan font-weight="normal" stroke="#111" stroke-width="0.3"> (pmol/min)</tspan></text>
<line x1="47.30" y1="280.90" x2="47.30" y2="283.90" stroke="#111" stroke-width="0.95"/>
<line x1="46.00" y1="280.90" x2="48.60" y2="280.90" stroke="#111" stroke-width="0.95"/>
<line x1="46.00" y1="283.90" x2="48.60" y2="283.90" stroke="#111" stroke-width="0.95"/>
<line x1="63.08" y1="280.60" x2="63.08" y2="283.60" stroke="#111" stroke-width="0.95"/>
<line x1="61.78" y1="280.60" x2="64.38" y2="280.60" stroke="#111" stroke-width="0.95"/>
<line x1="61.78" y1="283.60" x2="64.38" y2="283.60" stroke="#111" stroke-width="0.95"/>
<line x1="78.86" y1="283.00" x2="78.86" y2="286.00" stroke="#111" stroke-width="0.95"/>
<line x1="77.56" y1="283.00" x2="80.16" y2="283.00" stroke="#111" stroke-width="0.95"/>
<line x1="77.56" y1="286.00" x2="80.16" y2="286.00" stroke="#111" stroke-width="0.95"/>
<line x1="94.64" y1="279.90" x2="94.64" y2="282.90" stroke="#111" stroke-width="0.95"/>
<line x1="93.34" y1="279.90" x2="95.94" y2="279.90" stroke="#111" stroke-width="0.95"/>
<line x1="93.34" y1="282.90" x2="95.94" y2="282.90" stroke="#111" stroke-width="0.95"/>
<line x1="110.42" y1="280.10" x2="110.42" y2="283.10" stroke="#111" stroke-width="0.95"/>
<line x1="109.12" y1="280.10" x2="111.72" y2="280.10" stroke="#111" stroke-width="0.95"/>
<line x1="109.12" y1="283.10" x2="111.72" y2="283.10" stroke="#111" stroke-width="0.95"/>
<line x1="126.20" y1="280.50" x2="126.20" y2="283.50" stroke="#111" stroke-width="0.95"/>
<line x1="124.90" y1="280.50" x2="127.50" y2="280.50" stroke="#111" stroke-width="0.95"/>
<line x1="124.90" y1="283.50" x2="127.50" y2="283.50" stroke="#111" stroke-width="0.95"/>
<line x1="141.98" y1="279.40" x2="141.98" y2="282.40" stroke="#111" stroke-width="0.95"/>
<line x1="140.68" y1="279.40" x2="143.28" y2="279.40" stroke="#111" stroke-width="0.95"/>
<line x1="140.68" y1="282.40" x2="143.28" y2="282.40" stroke="#111" stroke-width="0.95"/>
<line x1="157.76" y1="282.70" x2="157.76" y2="285.70" stroke="#111" stroke-width="0.95"/>
<line x1="156.46" y1="282.70" x2="159.06" y2="282.70" stroke="#111" stroke-width="0.95"/>
<line x1="156.46" y1="285.70" x2="159.06" y2="285.70" stroke="#111" stroke-width="0.95"/>
<line x1="173.54" y1="286.10" x2="173.54" y2="288.10" stroke="#111" stroke-width="0.95"/>
<line x1="172.24" y1="286.10" x2="174.84" y2="286.10" stroke="#111" stroke-width="0.95"/>
<line x1="172.24" y1="288.10" x2="174.84" y2="288.10" stroke="#111" stroke-width="0.95"/>
<line x1="189.32" y1="312.00" x2="189.32" y2="315.00" stroke="#111" stroke-width="0.95"/>
<line x1="188.02" y1="312.00" x2="190.62" y2="312.00" stroke="#111" stroke-width="0.95"/>
<line x1="188.02" y1="315.00" x2="190.62" y2="315.00" stroke="#111" stroke-width="0.95"/>
<line x1="205.10" y1="312.50" x2="205.10" y2="315.50" stroke="#111" stroke-width="0.95"/>
<line x1="203.80" y1="312.50" x2="206.40" y2="312.50" stroke="#111" stroke-width="0.95"/>
<line x1="203.80" y1="315.50" x2="206.40" y2="315.50" stroke="#111" stroke-width="0.95"/>
<line x1="220.88" y1="312.50" x2="220.88" y2="315.50" stroke="#111" stroke-width="0.95"/>
<line x1="219.58" y1="312.50" x2="222.18" y2="312.50" stroke="#111" stroke-width="0.95"/>
<line x1="219.58" y1="315.50" x2="222.18" y2="315.50" stroke="#111" stroke-width="0.95"/>
<line x1="47.30" y1="277.10" x2="47.30" y2="283.10" stroke="#111" stroke-width="0.95"/>
<line x1="46.00" y1="277.10" x2="48.60" y2="277.10" stroke="#111" stroke-width="0.95"/>
<line x1="46.00" y1="283.10" x2="48.60" y2="283.10" stroke="#111" stroke-width="0.95"/>
<line x1="63.08" y1="280.90" x2="63.08" y2="283.90" stroke="#111" stroke-width="0.95"/>
<line x1="61.78" y1="280.90" x2="64.38" y2="280.90" stroke="#111" stroke-width="0.95"/>
<line x1="61.78" y1="283.90" x2="64.38" y2="283.90" stroke="#111" stroke-width="0.95"/>
<line x1="78.86" y1="280.30" x2="78.86" y2="285.30" stroke="#111" stroke-width="0.95"/>
<line x1="77.56" y1="280.30" x2="80.16" y2="280.30" stroke="#111" stroke-width="0.95"/>
<line x1="77.56" y1="285.30" x2="80.16" y2="285.30" stroke="#111" stroke-width="0.95"/>
<line x1="94.64" y1="280.90" x2="94.64" y2="283.90" stroke="#111" stroke-width="0.95"/>
<line x1="93.34" y1="280.90" x2="95.94" y2="280.90" stroke="#111" stroke-width="0.95"/>
<line x1="93.34" y1="283.90" x2="95.94" y2="283.90" stroke="#111" stroke-width="0.95"/>
<line x1="110.42" y1="281.10" x2="110.42" y2="284.10" stroke="#111" stroke-width="0.95"/>
<line x1="109.12" y1="281.10" x2="111.72" y2="281.10" stroke="#111" stroke-width="0.95"/>
<line x1="109.12" y1="284.10" x2="111.72" y2="284.10" stroke="#111" stroke-width="0.95"/>
<line x1="126.20" y1="282.00" x2="126.20" y2="285.00" stroke="#111" stroke-width="0.95"/>
<line x1="124.90" y1="282.00" x2="127.50" y2="282.00" stroke="#111" stroke-width="0.95"/>
<line x1="124.90" y1="285.00" x2="127.50" y2="285.00" stroke="#111" stroke-width="0.95"/>
<line x1="141.98" y1="274.00" x2="141.98" y2="284.00" stroke="#111" stroke-width="0.95"/>
<line x1="140.68" y1="274.00" x2="143.28" y2="274.00" stroke="#111" stroke-width="0.95"/>
<line x1="140.68" y1="284.00" x2="143.28" y2="284.00" stroke="#111" stroke-width="0.95"/>
<line x1="157.76" y1="285.90" x2="157.76" y2="288.90" stroke="#111" stroke-width="0.95"/>
<line x1="156.46" y1="285.90" x2="159.06" y2="285.90" stroke="#111" stroke-width="0.95"/>
<line x1="156.46" y1="288.90" x2="159.06" y2="288.90" stroke="#111" stroke-width="0.95"/>
<line x1="173.54" y1="287.40" x2="173.54" y2="289.40" stroke="#111" stroke-width="0.95"/>
<line x1="172.24" y1="287.40" x2="174.84" y2="287.40" stroke="#111" stroke-width="0.95"/>
<line x1="172.24" y1="289.40" x2="174.84" y2="289.40" stroke="#111" stroke-width="0.95"/>
<line x1="189.32" y1="310.40" x2="189.32" y2="313.40" stroke="#111" stroke-width="0.95"/>
<line x1="188.02" y1="310.40" x2="190.62" y2="310.40" stroke="#111" stroke-width="0.95"/>
<line x1="188.02" y1="313.40" x2="190.62" y2="313.40" stroke="#111" stroke-width="0.95"/>
<line x1="205.10" y1="311.20" x2="205.10" y2="314.20" stroke="#111" stroke-width="0.95"/>
<line x1="203.80" y1="311.20" x2="206.40" y2="311.20" stroke="#111" stroke-width="0.95"/>
<line x1="203.80" y1="314.20" x2="206.40" y2="314.20" stroke="#111" stroke-width="0.95"/>
<line x1="220.88" y1="311.20" x2="220.88" y2="314.20" stroke="#111" stroke-width="0.95"/>
<line x1="219.58" y1="311.20" x2="222.18" y2="311.20" stroke="#111" stroke-width="0.95"/>
<line x1="219.58" y1="314.20" x2="222.18" y2="314.20" stroke="#111" stroke-width="0.95"/>
<line x1="47.30" y1="244.50" x2="47.30" y2="248.50" stroke="#111" stroke-width="0.95"/>
<line x1="46.00" y1="244.50" x2="48.60" y2="244.50" stroke="#111" stroke-width="0.95"/>
<line x1="46.00" y1="248.50" x2="48.60" y2="248.50" stroke="#111" stroke-width="0.95"/>
<line x1="63.08" y1="249.90" x2="63.08" y2="253.50" stroke="#111" stroke-width="0.95"/>
<line x1="61.78" y1="249.90" x2="64.38" y2="249.90" stroke="#111" stroke-width="0.95"/>
<line x1="61.78" y1="253.50" x2="64.38" y2="253.50" stroke="#111" stroke-width="0.95"/>
<line x1="78.86" y1="251.60" x2="78.86" y2="254.60" stroke="#111" stroke-width="0.95"/>
<line x1="77.56" y1="251.60" x2="80.16" y2="251.60" stroke="#111" stroke-width="0.95"/>
<line x1="77.56" y1="254.60" x2="80.16" y2="254.60" stroke="#111" stroke-width="0.95"/>
<line x1="94.64" y1="251.60" x2="94.64" y2="254.60" stroke="#111" stroke-width="0.95"/>
<line x1="93.34" y1="251.60" x2="95.94" y2="251.60" stroke="#111" stroke-width="0.95"/>
<line x1="93.34" y1="254.60" x2="95.94" y2="254.60" stroke="#111" stroke-width="0.95"/>
<line x1="110.42" y1="251.60" x2="110.42" y2="254.60" stroke="#111" stroke-width="0.95"/>
<line x1="109.12" y1="251.60" x2="111.72" y2="251.60" stroke="#111" stroke-width="0.95"/>
<line x1="109.12" y1="254.60" x2="111.72" y2="254.60" stroke="#111" stroke-width="0.95"/>
<line x1="126.20" y1="254.80" x2="126.20" y2="256.80" stroke="#111" stroke-width="0.95"/>
<line x1="124.90" y1="254.80" x2="127.50" y2="254.80" stroke="#111" stroke-width="0.95"/>
<line x1="124.90" y1="256.80" x2="127.50" y2="256.80" stroke="#111" stroke-width="0.95"/>
<line x1="141.98" y1="241.40" x2="141.98" y2="249.40" stroke="#111" stroke-width="0.95"/>
<line x1="140.68" y1="241.40" x2="143.28" y2="241.40" stroke="#111" stroke-width="0.95"/>
<line x1="140.68" y1="249.40" x2="143.28" y2="249.40" stroke="#111" stroke-width="0.95"/>
<line x1="157.76" y1="230.40" x2="157.76" y2="238.00" stroke="#111" stroke-width="0.95"/>
<line x1="156.46" y1="230.40" x2="159.06" y2="230.40" stroke="#111" stroke-width="0.95"/>
<line x1="156.46" y1="238.00" x2="159.06" y2="238.00" stroke="#111" stroke-width="0.95"/>
<line x1="173.54" y1="229.60" x2="173.54" y2="237.00" stroke="#111" stroke-width="0.95"/>
<line x1="172.24" y1="229.60" x2="174.84" y2="229.60" stroke="#111" stroke-width="0.95"/>
<line x1="172.24" y1="237.00" x2="174.84" y2="237.00" stroke="#111" stroke-width="0.95"/>
<line x1="189.32" y1="308.60" x2="189.32" y2="312.60" stroke="#111" stroke-width="0.95"/>
<line x1="188.02" y1="308.60" x2="190.62" y2="308.60" stroke="#111" stroke-width="0.95"/>
<line x1="188.02" y1="312.60" x2="190.62" y2="312.60" stroke="#111" stroke-width="0.95"/>
<line x1="205.10" y1="301.70" x2="205.10" y2="312.70" stroke="#111" stroke-width="0.95"/>
<line x1="203.80" y1="301.70" x2="206.40" y2="301.70" stroke="#111" stroke-width="0.95"/>
<line x1="203.80" y1="312.70" x2="206.40" y2="312.70" stroke="#111" stroke-width="0.95"/>
<line x1="220.88" y1="305.70" x2="220.88" y2="311.70" stroke="#111" stroke-width="0.95"/>
<line x1="219.58" y1="305.70" x2="222.18" y2="305.70" stroke="#111" stroke-width="0.95"/>
<line x1="219.58" y1="311.70" x2="222.18" y2="311.70" stroke="#111" stroke-width="0.95"/>
<line x1="47.30" y1="254.20" x2="47.30" y2="259.20" stroke="#111" stroke-width="0.95"/>
<line x1="46.00" y1="254.20" x2="48.60" y2="254.20" stroke="#111" stroke-width="0.95"/>
<line x1="46.00" y1="259.20" x2="48.60" y2="259.20" stroke="#111" stroke-width="0.95"/>
<line x1="63.08" y1="258.50" x2="63.08" y2="263.50" stroke="#111" stroke-width="0.95"/>
<line x1="61.78" y1="258.50" x2="64.38" y2="258.50" stroke="#111" stroke-width="0.95"/>
<line x1="61.78" y1="263.50" x2="64.38" y2="263.50" stroke="#111" stroke-width="0.95"/>
<line x1="78.86" y1="261.90" x2="78.86" y2="266.90" stroke="#111" stroke-width="0.95"/>
<line x1="77.56" y1="261.90" x2="80.16" y2="261.90" stroke="#111" stroke-width="0.95"/>
<line x1="77.56" y1="266.90" x2="80.16" y2="266.90" stroke="#111" stroke-width="0.95"/>
<line x1="94.64" y1="261.00" x2="94.64" y2="266.00" stroke="#111" stroke-width="0.95"/>
<line x1="93.34" y1="261.00" x2="95.94" y2="261.00" stroke="#111" stroke-width="0.95"/>
<line x1="93.34" y1="266.00" x2="95.94" y2="266.00" stroke="#111" stroke-width="0.95"/>
<line x1="110.42" y1="262.40" x2="110.42" y2="266.40" stroke="#111" stroke-width="0.95"/>
<line x1="109.12" y1="262.40" x2="111.72" y2="262.40" stroke="#111" stroke-width="0.95"/>
<line x1="109.12" y1="266.40" x2="111.72" y2="266.40" stroke="#111" stroke-width="0.95"/>
<line x1="126.20" y1="265.60" x2="126.20" y2="268.60" stroke="#111" stroke-width="0.95"/>
<line x1="124.90" y1="265.60" x2="127.50" y2="265.60" stroke="#111" stroke-width="0.95"/>
<line x1="124.90" y1="268.60" x2="127.50" y2="268.60" stroke="#111" stroke-width="0.95"/>
<line x1="141.98" y1="257.30" x2="141.98" y2="259.30" stroke="#111" stroke-width="0.95"/>
<line x1="140.68" y1="257.30" x2="143.28" y2="257.30" stroke="#111" stroke-width="0.95"/>
<line x1="140.68" y1="259.30" x2="143.28" y2="259.30" stroke="#111" stroke-width="0.95"/>
<line x1="157.76" y1="248.60" x2="157.76" y2="250.60" stroke="#111" stroke-width="0.95"/>
<line x1="156.46" y1="248.60" x2="159.06" y2="248.60" stroke="#111" stroke-width="0.95"/>
<line x1="156.46" y1="250.60" x2="159.06" y2="250.60" stroke="#111" stroke-width="0.95"/>
<line x1="173.54" y1="244.30" x2="173.54" y2="247.30" stroke="#111" stroke-width="0.95"/>
<line x1="172.24" y1="244.30" x2="174.84" y2="244.30" stroke="#111" stroke-width="0.95"/>
<line x1="172.24" y1="247.30" x2="174.84" y2="247.30" stroke="#111" stroke-width="0.95"/>
<line x1="189.32" y1="309.20" x2="189.32" y2="313.20" stroke="#111" stroke-width="0.95"/>
<line x1="188.02" y1="309.20" x2="190.62" y2="309.20" stroke="#111" stroke-width="0.95"/>
<line x1="188.02" y1="313.20" x2="190.62" y2="313.20" stroke="#111" stroke-width="0.95"/>
<line x1="205.10" y1="302.20" x2="205.10" y2="312.20" stroke="#111" stroke-width="0.95"/>
<line x1="203.80" y1="302.20" x2="206.40" y2="302.20" stroke="#111" stroke-width="0.95"/>
<line x1="203.80" y1="312.20" x2="206.40" y2="312.20" stroke="#111" stroke-width="0.95"/>
<line x1="220.88" y1="305.70" x2="220.88" y2="311.70" stroke="#111" stroke-width="0.95"/>
<line x1="219.58" y1="305.70" x2="222.18" y2="305.70" stroke="#111" stroke-width="0.95"/>
<line x1="219.58" y1="311.70" x2="222.18" y2="311.70" stroke="#111" stroke-width="0.95"/>
<polyline points="47.30,282.40 63.08,282.10 78.86,284.50 94.64,281.40 110.42,281.60 126.20,282.00 141.98,280.90 157.76,284.20 173.54,287.10 189.32,313.50 205.10,314.00 220.88,314.00" fill="none" stroke="#5c266e" stroke-width="1.15" stroke-linejoin="round"/>
<circle cx="47.30" cy="282.40" r="1.2" fill="#5c266e"/>
<circle cx="63.08" cy="282.10" r="1.2" fill="#5c266e"/>
<circle cx="78.86" cy="284.50" r="1.2" fill="#5c266e"/>
<circle cx="94.64" cy="281.40" r="1.2" fill="#5c266e"/>
<circle cx="110.42" cy="281.60" r="1.2" fill="#5c266e"/>
<circle cx="126.20" cy="282.00" r="1.2" fill="#5c266e"/>
<circle cx="141.98" cy="280.90" r="1.2" fill="#5c266e"/>
<circle cx="157.76" cy="284.20" r="1.2" fill="#5c266e"/>
<circle cx="173.54" cy="287.10" r="1.2" fill="#5c266e"/>
<circle cx="189.32" cy="313.50" r="1.2" fill="#5c266e"/>
<circle cx="205.10" cy="314.00" r="1.2" fill="#5c266e"/>
<circle cx="220.88" cy="314.00" r="1.2" fill="#5c266e"/>
<polyline points="47.30,280.10 63.08,282.40 78.86,282.80 94.64,282.40 110.42,282.60 126.20,283.50 141.98,279.00 157.76,287.40 173.54,288.40 189.32,311.90 205.10,312.70 220.88,312.70" fill="none" stroke="#3bb54a" stroke-width="1.15" stroke-linejoin="round"/>
<circle cx="47.30" cy="280.10" r="1.2" fill="#3bb54a"/>
<circle cx="63.08" cy="282.40" r="1.2" fill="#3bb54a"/>
<circle cx="78.86" cy="282.80" r="1.2" fill="#3bb54a"/>
<circle cx="94.64" cy="282.40" r="1.2" fill="#3bb54a"/>
<circle cx="110.42" cy="282.60" r="1.2" fill="#3bb54a"/>
<circle cx="126.20" cy="283.50" r="1.2" fill="#3bb54a"/>
<circle cx="141.98" cy="279.00" r="1.2" fill="#3bb54a"/>
<circle cx="157.76" cy="287.40" r="1.2" fill="#3bb54a"/>
<circle cx="173.54" cy="288.40" r="1.2" fill="#3bb54a"/>
<circle cx="189.32" cy="311.90" r="1.2" fill="#3bb54a"/>
<circle cx="205.10" cy="312.70" r="1.2" fill="#3bb54a"/>
<circle cx="220.88" cy="312.70" r="1.2" fill="#3bb54a"/>
<polyline points="47.30,246.50 63.08,251.70 78.86,253.10 94.64,253.10 110.42,253.10 126.20,255.80 141.98,245.40 157.76,234.20 173.54,233.30 189.32,310.60 205.10,307.20 220.88,308.70" fill="none" stroke="#0f4c81" stroke-width="1.15" stroke-linejoin="round"/>
<circle cx="47.30" cy="246.50" r="1.2" fill="#0f4c81"/>
<circle cx="63.08" cy="251.70" r="1.2" fill="#0f4c81"/>
<circle cx="78.86" cy="253.10" r="1.2" fill="#0f4c81"/>
<circle cx="94.64" cy="253.10" r="1.2" fill="#0f4c81"/>
<circle cx="110.42" cy="253.10" r="1.2" fill="#0f4c81"/>
<circle cx="126.20" cy="255.80" r="1.2" fill="#0f4c81"/>
<circle cx="141.98" cy="245.40" r="1.2" fill="#0f4c81"/>
<circle cx="157.76" cy="234.20" r="1.2" fill="#0f4c81"/>
<circle cx="173.54" cy="233.30" r="1.2" fill="#0f4c81"/>
<circle cx="189.32" cy="310.60" r="1.2" fill="#0f4c81"/>
<circle cx="205.10" cy="307.20" r="1.2" fill="#0f4c81"/>
<circle cx="220.88" cy="308.70" r="1.2" fill="#0f4c81"/>
<polyline points="47.30,256.70 63.08,261.00 78.86,264.40 94.64,263.50 110.42,264.40 126.20,267.10 141.98,258.30 157.76,249.60 173.54,245.80 189.32,311.20 205.10,307.20 220.88,308.70" fill="none" stroke="#c8102e" stroke-width="1.15" stroke-linejoin="round"/>
<circle cx="47.30" cy="256.70" r="1.2" fill="#c8102e"/>
<circle cx="63.08" cy="261.00" r="1.2" fill="#c8102e"/>
<circle cx="78.86" cy="264.40" r="1.2" fill="#c8102e"/>
<circle cx="94.64" cy="263.50" r="1.2" fill="#c8102e"/>
<circle cx="110.42" cy="264.40" r="1.2" fill="#c8102e"/>
<circle cx="126.20" cy="267.10" r="1.2" fill="#c8102e"/>
<circle cx="141.98" cy="258.30" r="1.2" fill="#c8102e"/>
<circle cx="157.76" cy="249.60" r="1.2" fill="#c8102e"/>
<circle cx="173.54" cy="245.80" r="1.2" fill="#c8102e"/>
<circle cx="189.32" cy="311.20" r="1.2" fill="#c8102e"/>
<circle cx="205.10" cy="307.20" r="1.2" fill="#c8102e"/>
<circle cx="220.88" cy="308.70" r="1.2" fill="#c8102e"/>
<line x1="206.00" y1="219.50" x2="217.90" y2="219.50" stroke="#0f4c81" stroke-width="1.1"/>
<circle cx="211.90" cy="219.50" r="1.75" fill="#0f4c81"/>
<text x="220.80" y="222.13" font-size="7.3" text-anchor="start" font-weight="normal" fill="#222" >IL-6</text>
<line x1="206.00" y1="232.50" x2="217.90" y2="232.50" stroke="#3bb54a" stroke-width="1.1"/>
<circle cx="211.90" cy="232.50" r="1.3" fill="#3bb54a"/>
<text x="220.80" y="235.13" font-size="7.3" text-anchor="start" font-weight="normal" fill="#222" >IL-6 + HDGF</text>
<line x1="206.00" y1="245.50" x2="217.90" y2="245.50" stroke="#5c266e" stroke-width="1.1"/>
<circle cx="211.90" cy="245.50" r="1.4" fill="#5c266e"/>
<text x="220.80" y="248.13" font-size="7.3" text-anchor="start" font-weight="normal" fill="#222" >HDGF</text>
<line x1="206.00" y1="258.50" x2="217.90" y2="258.50" stroke="#c8102e" stroke-width="1.1"/>
<circle cx="211.90" cy="258.50" r="1.5" fill="#c8102e"/>
<text x="220.80" y="261.13" font-size="7.3" text-anchor="start" font-weight="normal" fill="#222" >Nil</text>
<text x="293.60" y="196.90" font-size="11" text-anchor="start" font-weight="bold" fill="#000" >D</text>
<line x1="324.30" y1="200.00" x2="324.30" y2="330.90" stroke="#1a1a1a" stroke-width="1.3"/>
<line x1="323.70" y1="330.30" x2="513.00" y2="330.30" stroke="#1a1a1a" stroke-width="1.3"/>
<line x1="321.10" y1="330.50" x2="324.30" y2="330.50" stroke="#1a1a1a" stroke-width="1.0"/>
<text x="318.40" y="333.13" font-size="8.0" text-anchor="end" font-weight="normal" fill="#222" >−20</text>
<line x1="321.10" y1="305.50" x2="324.30" y2="305.50" stroke="#1a1a1a" stroke-width="1.0"/>
<text x="318.40" y="307.78" font-size="8.0" text-anchor="end" font-weight="normal" fill="#222" >0</text>
<line x1="321.10" y1="279.50" x2="324.30" y2="279.50" stroke="#1a1a1a" stroke-width="1.0"/>
<text x="318.40" y="282.43" font-size="8.0" text-anchor="end" font-weight="normal" fill="#222" >20</text>
<line x1="321.10" y1="254.50" x2="324.30" y2="254.50" stroke="#1a1a1a" stroke-width="1.0"/>
<text x="318.40" y="257.08" font-size="8.0" text-anchor="end" font-weight="normal" fill="#222" >40</text>
<line x1="321.10" y1="229.50" x2="324.30" y2="229.50" stroke="#1a1a1a" stroke-width="1.0"/>
<text x="318.40" y="231.73" font-size="8.0" text-anchor="end" font-weight="normal" fill="#222" >60</text>
<line x1="321.10" y1="203.50" x2="324.30" y2="203.50" stroke="#1a1a1a" stroke-width="1.0"/>
<text x="318.40" y="206.38" font-size="8.0" text-anchor="end" font-weight="normal" fill="#222" >80</text>
<line x1="324.30" y1="305.20" x2="513.30" y2="305.20" stroke="#7a7a7a" stroke-width="1.3"/>
<text transform="translate(301.80,265.75) rotate(-90)" font-size="9.5" text-anchor="middle" fill="#111" font-weight="bold" textLength="46.5" lengthAdjust="spacingAndGlyphs">OCR<tspan font-weight="normal" stroke="#111" stroke-width="0.3"> (pmol/min)</tspan></text>
<line x1="331.00" y1="251.60" x2="331.00" y2="258.50" stroke="#1a1a1a" stroke-width="0.8"/>
<line x1="329.30" y1="251.60" x2="332.70" y2="251.60" stroke="#1a1a1a" stroke-width="0.8"/>
<rect x="327.90" y="258.50" width="6.20" height="46.70" fill="#c8102e" stroke="#a00c25" stroke-width="0.4"/>
<line x1="341.35" y1="241.20" x2="341.35" y2="247.00" stroke="#1a1a1a" stroke-width="0.8"/>
<line x1="339.65" y1="241.20" x2="343.05" y2="241.20" stroke="#1a1a1a" stroke-width="0.8"/>
<rect x="338.25" y="247.00" width="6.20" height="58.20" fill="#0f4c81" stroke="#0a3a66" stroke-width="0.4"/>
<line x1="351.70" y1="268.10" x2="351.70" y2="275.00" stroke="#1a1a1a" stroke-width="0.8"/>
<line x1="350.00" y1="268.10" x2="353.40" y2="268.10" stroke="#1a1a1a" stroke-width="0.8"/>
<rect x="348.60" y="275.00" width="6.20" height="30.20" fill="#3bb54a" stroke="#2a9a3a" stroke-width="0.4"/>
<circle cx="351.70" cy="263.50" r="1.1" fill="#111"/>
<line x1="362.05" y1="271.90" x2="362.05" y2="275.00" stroke="#1a1a1a" stroke-width="0.8"/>
<line x1="360.35" y1="271.90" x2="363.75" y2="271.90" stroke="#1a1a1a" stroke-width="0.8"/>
<rect x="358.95" y="275.00" width="6.20" height="30.20" fill="#5c266e" stroke="#461c56" stroke-width="0.4"/>
<circle cx="362.05" cy="267.00" r="1.1" fill="#111"/>
<line x1="379.40" y1="300.40" x2="379.40" y2="302.80" stroke="#1a1a1a" stroke-width="0.8"/>
<line x1="377.70" y1="300.40" x2="381.10" y2="300.40" stroke="#1a1a1a" stroke-width="0.8"/>
<rect x="376.30" y="302.80" width="6.20" height="2.40" fill="#c8102e" stroke="#a00c25" stroke-width="0.4"/>
<line x1="389.75" y1="301.80" x2="389.75" y2="302.50" stroke="#1a1a1a" stroke-width="0.8"/>
<line x1="388.05" y1="301.80" x2="391.45" y2="301.80" stroke="#1a1a1a" stroke-width="0.8"/>
<rect x="386.65" y="302.50" width="6.20" height="2.70" fill="#0f4c81" stroke="#0a3a66" stroke-width="0.4"/>
<line x1="400.10" y1="301.80" x2="400.10" y2="304.20" stroke="#1a1a1a" stroke-width="0.8"/>
<line x1="398.40" y1="301.80" x2="401.80" y2="301.80" stroke="#1a1a1a" stroke-width="0.8"/>
<rect x="397.00" y="304.20" width="6.20" height="1.00" fill="#3bb54a" stroke="#2a9a3a" stroke-width="0.4"/>
<line x1="410.45" y1="306.90" x2="410.45" y2="310.50" stroke="#1a1a1a" stroke-width="0.8"/>
<line x1="408.75" y1="310.50" x2="412.15" y2="310.50" stroke="#1a1a1a" stroke-width="0.8"/>
<rect x="407.35" y="305.20" width="6.20" height="1.70" fill="#5c266e" stroke="#461c56" stroke-width="0.4"/>
<circle cx="410.45" cy="299.90" r="1.1" fill="#111"/>
<line x1="427.60" y1="236.30" x2="427.60" y2="241.30" stroke="#1a1a1a" stroke-width="0.8"/>
<line x1="425.90" y1="236.30" x2="429.30" y2="236.30" stroke="#1a1a1a" stroke-width="0.8"/>
<rect x="424.50" y="241.30" width="6.20" height="63.90" fill="#c8102e" stroke="#a00c25" stroke-width="0.4"/>
<line x1="437.95" y1="214.40" x2="437.95" y2="227.60" stroke="#1a1a1a" stroke-width="0.8"/>
<line x1="436.25" y1="214.40" x2="439.65" y2="214.40" stroke="#1a1a1a" stroke-width="0.8"/>
<rect x="434.85" y="227.60" width="6.20" height="77.60" fill="#0f4c81" stroke="#0a3a66" stroke-width="0.4"/>
<line x1="448.30" y1="266.50" x2="448.30" y2="271.20" stroke="#1a1a1a" stroke-width="0.8"/>
<line x1="446.60" y1="266.50" x2="450.00" y2="266.50" stroke="#1a1a1a" stroke-width="0.8"/>
<rect x="445.20" y="271.20" width="6.20" height="34.00" fill="#3bb54a" stroke="#2a9a3a" stroke-width="0.4"/>
<path d="M448.30,257.20 L450.00,260.00 L448.30,262.80 L446.60,260.00 Z" fill="none" stroke="#333" stroke-width="0.6"/>
<line x1="458.65" y1="268.60" x2="458.65" y2="272.60" stroke="#1a1a1a" stroke-width="0.8"/>
<line x1="456.95" y1="268.60" x2="460.35" y2="268.60" stroke="#1a1a1a" stroke-width="0.8"/>
<rect x="455.55" y="272.60" width="6.20" height="32.60" fill="#5c266e" stroke="#461c56" stroke-width="0.4"/>
<path d="M458.65,259.30 L460.35,262.10 L458.65,264.90 L456.95,262.10 Z" fill="none" stroke="#333" stroke-width="0.6"/>
<line x1="476.30" y1="284.30" x2="476.30" y2="287.70" stroke="#1a1a1a" stroke-width="0.8"/>
<line x1="474.60" y1="284.30" x2="478.00" y2="284.30" stroke="#1a1a1a" stroke-width="0.8"/>
<rect x="473.20" y="287.70" width="6.20" height="17.50" fill="#c8102e" stroke="#a00c25" stroke-width="0.4"/>
<line x1="486.65" y1="278.70" x2="486.65" y2="285.10" stroke="#1a1a1a" stroke-width="0.8"/>
<line x1="484.95" y1="278.70" x2="488.35" y2="278.70" stroke="#1a1a1a" stroke-width="0.8"/>
<rect x="483.55" y="285.10" width="6.20" height="20.10" fill="#0f4c81" stroke="#0a3a66" stroke-width="0.4"/>
<line x1="497.00" y1="298.40" x2="497.00" y2="301.50" stroke="#1a1a1a" stroke-width="0.8"/>
<line x1="495.30" y1="298.40" x2="498.70" y2="298.40" stroke="#1a1a1a" stroke-width="0.8"/>
<rect x="493.90" y="301.50" width="6.20" height="3.70" fill="#3bb54a" stroke="#2a9a3a" stroke-width="0.4"/>
<path d="M497.00,289.60 L498.70,292.40 L497.00,295.20 L495.30,292.40 Z" fill="none" stroke="#333" stroke-width="0.6"/>
<line x1="507.35" y1="297.20" x2="507.35" y2="301.50" stroke="#1a1a1a" stroke-width="0.8"/>
<line x1="505.65" y1="297.20" x2="509.05" y2="297.20" stroke="#1a1a1a" stroke-width="0.8"/>
<rect x="504.25" y="301.50" width="6.20" height="3.70" fill="#5c266e" stroke="#461c56" stroke-width="0.4"/>
<path d="M507.35,288.40 L509.05,291.20 L507.35,294.00 L505.65,291.20 Z" fill="none" stroke="#333" stroke-width="0.6"/>
<line x1="346.60" y1="330.20" x2="346.60" y2="333.20" stroke="#1a1a1a" stroke-width="1.1"/>
<text x="346.60" y="342.10" font-size="7.5" text-anchor="middle" font-weight="normal" fill="#222" >BR</text>
<line x1="395.00" y1="330.20" x2="395.00" y2="333.20" stroke="#1a1a1a" stroke-width="1.1"/>
<text x="395.00" y="342.10" font-size="7.5" text-anchor="middle" font-weight="normal" fill="#222" >ATP</text>
<line x1="443.20" y1="330.20" x2="443.20" y2="333.20" stroke="#1a1a1a" stroke-width="1.1"/>
<text x="443.20" y="342.10" font-size="7.5" text-anchor="middle" font-weight="normal" fill="#222" >MR</text>
<line x1="491.80" y1="330.20" x2="491.80" y2="333.20" stroke="#1a1a1a" stroke-width="1.1"/>
<text x="491.80" y="342.10" font-size="7.5" text-anchor="middle" font-weight="normal" fill="#222" >SRC</text>
<text x="6.60" y="370.00" font-size="11" text-anchor="start" font-weight="bold" fill="#000" >E</text>
<line x1="39.50" y1="372.30" x2="39.50" y2="503.20" stroke="#1a1a1a" stroke-width="1.3"/>
<line x1="38.90" y1="502.55" x2="172.60" y2="502.55" stroke="#1a1a1a" stroke-width="1.3"/>
<line x1="36.30" y1="502.50" x2="39.50" y2="502.50" stroke="#1a1a1a" stroke-width="1.0"/>
<text x="33.90" y="505.08" font-size="8.0" text-anchor="end" font-weight="normal" fill="#222" >0</text>
<line x1="36.30" y1="460.50" x2="39.50" y2="460.50" stroke="#1a1a1a" stroke-width="1.0"/>
<text x="33.90" y="463.08" font-size="8.0" text-anchor="end" font-weight="normal" fill="#222" >5</text>
<line x1="36.30" y1="418.50" x2="39.50" y2="418.50" stroke="#1a1a1a" stroke-width="1.0"/>
<text x="33.90" y="421.08" font-size="8.0" text-anchor="end" font-weight="normal" fill="#222" >10</text>
<line x1="36.30" y1="376.50" x2="39.50" y2="376.50" stroke="#1a1a1a" stroke-width="1.0"/>
<text x="33.90" y="379.08" font-size="8.0" text-anchor="end" font-weight="normal" fill="#222" >15</text>
<text transform="translate(19.30,437.40) rotate(-90)" font-size="9.7" text-anchor="middle" fill="#111" font-weight="bold" textLength="31.0" lengthAdjust="spacingAndGlyphs">OCR/ECAR</text>
<line x1="59.70" y1="393.80" x2="59.70" y2="428.20" stroke="#333" stroke-width="0.9"/>
<line x1="59.70" y1="460.50" x2="59.70" y2="469.10" stroke="#333" stroke-width="0.9"/>
<line x1="54.10" y1="393.80" x2="65.30" y2="393.80" stroke="#333" stroke-width="0.9"/>
<line x1="54.10" y1="469.10" x2="65.30" y2="469.10" stroke="#333" stroke-width="0.9"/>
<rect x="51.20" y="428.20" width="17.00" height="32.30" fill="#c8102e" stroke="#a00c25" stroke-width="0.5"/>
<line x1="51.20" y1="444.30" x2="68.20" y2="444.30" stroke="#000" stroke-width="1.1"/>
<line x1="59.70" y1="502.60" x2="59.70" y2="505.60" stroke="#1a1a1a" stroke-width="1.1"/>
<line x1="90.40" y1="393.80" x2="90.40" y2="398.90" stroke="#333" stroke-width="0.9"/>
<line x1="90.40" y1="447.30" x2="90.40" y2="452.40" stroke="#333" stroke-width="0.9"/>
<line x1="84.80" y1="393.80" x2="96.00" y2="393.80" stroke="#333" stroke-width="0.9"/>
<line x1="84.80" y1="452.40" x2="96.00" y2="452.40" stroke="#333" stroke-width="0.9"/>
<rect x="81.90" y="398.90" width="17.00" height="48.40" fill="#0f4c81" stroke="#0a3a66" stroke-width="0.5"/>
<line x1="81.90" y1="418.90" x2="98.90" y2="418.90" stroke="#000" stroke-width="1.1"/>
<line x1="90.40" y1="502.60" x2="90.40" y2="505.60" stroke="#1a1a1a" stroke-width="1.1"/>
<line x1="121.10" y1="444.40" x2="121.10" y2="461.80" stroke="#333" stroke-width="0.9"/>
<line x1="121.10" y1="466.50" x2="121.10" y2="469.20" stroke="#333" stroke-width="0.9"/>
<line x1="115.50" y1="444.40" x2="126.70" y2="444.40" stroke="#333" stroke-width="0.9"/>
<line x1="115.50" y1="469.20" x2="126.70" y2="469.20" stroke="#333" stroke-width="0.9"/>
<rect x="112.60" y="461.80" width="17.00" height="4.70" fill="#3bb54a" stroke="#2a9a3a" stroke-width="0.5"/>
<line x1="112.60" y1="463.40" x2="129.60" y2="463.40" stroke="#000" stroke-width="1.1"/>
<line x1="121.10" y1="502.60" x2="121.10" y2="505.60" stroke="#1a1a1a" stroke-width="1.1"/>
<line x1="152.00" y1="452.30" x2="152.00" y2="457.40" stroke="#333" stroke-width="0.9"/>
<line x1="152.00" y1="472.60" x2="152.00" y2="477.70" stroke="#333" stroke-width="0.9"/>
<line x1="146.40" y1="452.30" x2="157.60" y2="452.30" stroke="#333" stroke-width="0.9"/>
<line x1="146.40" y1="477.70" x2="157.60" y2="477.70" stroke="#333" stroke-width="0.9"/>
<rect x="143.50" y="457.40" width="17.00" height="15.20" fill="#5c266e" stroke="#461c56" stroke-width="0.5"/>
<line x1="143.50" y1="469.20" x2="160.50" y2="469.20" stroke="#000" stroke-width="1.1"/>
<line x1="152.00" y1="502.60" x2="152.00" y2="505.60" stroke="#1a1a1a" stroke-width="1.1"/>
<circle cx="121.00" cy="439.40" r="1.1" fill="#111"/>
<line x1="152.00" y1="440.40" x2="152.00" y2="449.40" stroke="#555" stroke-width="0.9"/>
<line x1="149.80" y1="443.00" x2="154.20" y2="444.80" stroke="#333" stroke-width="1.0"/>
<line x1="149.80" y1="445.00" x2="154.20" y2="446.80" stroke="#333" stroke-width="1.0"/>
<text transform="translate(63.50,511.80) rotate(-45)" font-size="7.8" text-anchor="end" fill="#222">Nil</text>
<text transform="translate(94.30,511.80) rotate(-45)" font-size="7.8" text-anchor="end" fill="#222">IL-6</text>
<text transform="translate(124.90,511.80) rotate(-45)" font-size="7.8" text-anchor="end" fill="#222">IL-6 + HDGF</text>
<text transform="translate(155.80,511.80) rotate(-45)" font-size="7.8" text-anchor="end" fill="#222">HDGF</text>
<rect x="178.70" y="420.90" width="5.20" height="5.20" fill="#c8102e" stroke="#a00c25" stroke-width="0.4"/>
<text x="186.80" y="426.16" font-size="7.4" text-anchor="start" font-weight="normal" fill="#222" >Nil</text>
<rect x="178.70" y="430.30" width="5.20" height="5.20" fill="#0f4c81" stroke="#0a3a66" stroke-width="0.4"/>
<text x="186.80" y="435.56" font-size="7.4" text-anchor="start" font-weight="normal" fill="#222" >IL-6</text>
<rect x="178.70" y="439.50" width="5.20" height="5.20" fill="#3bb54a" stroke="#2a9a3a" stroke-width="0.4"/>
<text x="186.80" y="444.76" font-size="7.4" text-anchor="start" font-weight="normal" fill="#222" >IL-6 + HDGF</text>
<rect x="178.70" y="448.90" width="5.20" height="5.20" fill="#5c266e" stroke="#461c56" stroke-width="0.4"/>
<text x="186.80" y="454.16" font-size="7.4" text-anchor="start" font-weight="normal" fill="#222" >HDGF</text>
<text x="294.00" y="370.00" font-size="11" text-anchor="start" font-weight="bold" fill="#000" >F</text>
<line x1="342.80" y1="372.30" x2="342.80" y2="503.20" stroke="#1a1a1a" stroke-width="1.3"/>
<line x1="342.20" y1="502.50" x2="476.00" y2="502.50" stroke="#1a1a1a" stroke-width="1.3"/>
<line x1="339.60" y1="502.50" x2="342.80" y2="502.50" stroke="#1a1a1a" stroke-width="1.0"/>
<text x="336.90" y="505.08" font-size="8.0" text-anchor="end" font-weight="normal" fill="#222" >0</text>
<line x1="339.60" y1="460.50" x2="342.80" y2="460.50" stroke="#1a1a1a" stroke-width="1.0"/>
<text x="336.90" y="463.08" font-size="8.0" text-anchor="end" font-weight="normal" fill="#222" >10</text>
<line x1="339.60" y1="418.50" x2="342.80" y2="418.50" stroke="#1a1a1a" stroke-width="1.0"/>
<text x="336.90" y="421.08" font-size="8.0" text-anchor="end" font-weight="normal" fill="#222" >20</text>
<line x1="339.60" y1="376.50" x2="342.80" y2="376.50" stroke="#1a1a1a" stroke-width="1.0"/>
<text x="336.90" y="379.08" font-size="8.0" text-anchor="end" font-weight="normal" fill="#222" >30</text>
<text transform="translate(321.90,438.05) rotate(-90)" font-size="9.4" text-anchor="middle" fill="#111" font-weight="bold" textLength="58.7" lengthAdjust="spacingAndGlyphs"><tspan font-weight="normal" stroke="#111" stroke-width="0.3">% TMRE low of total</tspan></text>
<line x1="363.00" y1="407.60" x2="363.00" y2="412.30" stroke="#1a1a1a" stroke-width="0.9"/>
<line x1="357.50" y1="407.60" x2="368.50" y2="407.60" stroke="#1a1a1a" stroke-width="0.9"/>
<rect x="354.20" y="412.30" width="17.60" height="90.30" fill="#c8102e" stroke="#a00c25" stroke-width="0.4"/>
<line x1="363.00" y1="502.60" x2="363.00" y2="505.60" stroke="#1a1a1a" stroke-width="1.1"/>
<circle cx="363.00" cy="402.50" r="1.1" fill="#111"/>
<line x1="393.90" y1="461.50" x2="393.90" y2="466.50" stroke="#1a1a1a" stroke-width="0.9"/>
<line x1="388.40" y1="461.50" x2="399.40" y2="461.50" stroke="#1a1a1a" stroke-width="0.9"/>
<rect x="385.10" y="466.50" width="17.60" height="36.10" fill="#0f4c81" stroke="#0a3a66" stroke-width="0.4"/>
<line x1="393.90" y1="502.60" x2="393.90" y2="505.60" stroke="#1a1a1a" stroke-width="1.1"/>
<path d="M393.90,452.70 L395.60,455.50 L393.90,458.30 L392.20,455.50 Z" fill="none" stroke="#333" stroke-width="0.6"/>
<line x1="424.80" y1="439.50" x2="424.80" y2="441.30" stroke="#1a1a1a" stroke-width="0.9"/>
<line x1="419.30" y1="439.50" x2="430.30" y2="439.50" stroke="#1a1a1a" stroke-width="0.9"/>
<rect x="416.00" y="441.30" width="17.60" height="61.30" fill="#3bb54a" stroke="#2a9a3a" stroke-width="0.4"/>
<line x1="424.80" y1="502.60" x2="424.80" y2="505.60" stroke="#1a1a1a" stroke-width="1.1"/>
<path d="M424.80,430.10 L426.50,432.90 L424.80,435.70 L423.10,432.90 Z" fill="none" stroke="#333" stroke-width="0.6"/>
<line x1="455.60" y1="391.30" x2="455.60" y2="400.20" stroke="#1a1a1a" stroke-width="0.9"/>
<line x1="450.10" y1="391.30" x2="461.10" y2="391.30" stroke="#1a1a1a" stroke-width="0.9"/>
<rect x="446.80" y="400.20" width="17.60" height="102.40" fill="#5c266e" stroke="#461c56" stroke-width="0.4"/>
<line x1="455.60" y1="502.60" x2="455.60" y2="505.60" stroke="#1a1a1a" stroke-width="1.1"/>
<text transform="translate(366.80,511.80) rotate(-45)" font-size="7.8" text-anchor="end" fill="#222">Nil</text>
<text transform="translate(397.70,511.80) rotate(-45)" font-size="7.8" text-anchor="end" fill="#222">IL-6</text>
<text transform="translate(428.60,511.80) rotate(-45)" font-size="7.8" text-anchor="end" fill="#222">IL-6 + HDGF</text>
<text transform="translate(459.40,511.80) rotate(-45)" font-size="7.8" text-anchor="end" fill="#222">HDGF</text>
<rect x="0.5" y="0.5" width="519" height="550" fill="none" stroke="#000" stroke-width="1.2"/>
</svg>
</body></html>
